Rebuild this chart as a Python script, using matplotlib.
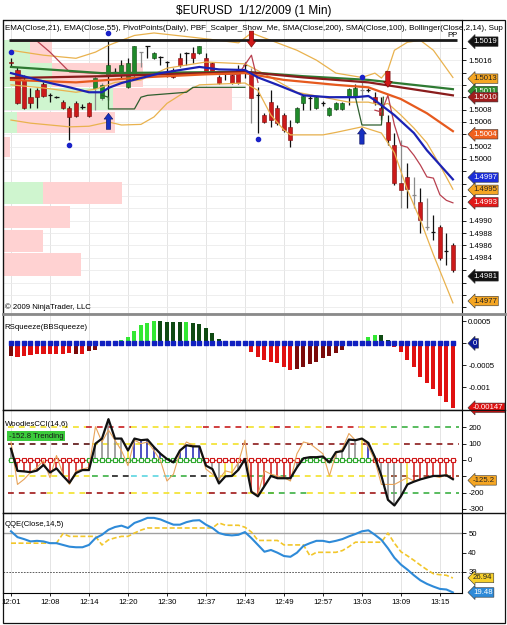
import matplotlib
matplotlib.use("Agg")
import matplotlib.pyplot as plt
from matplotlib.patches import Rectangle
from matplotlib.lines import Line2D

plt.rcParams['font.family'] = ['Liberation Sans', 'DejaVu Sans']

# ---------------- data ----------------
time_labels = ["12:01", "12:08", "12:14", "12:20", "12:30", "12:37", "12:43",
               "12:49", "12:57", "13:03", "13:09", "13:15"]

opens = [1.50157, 1.50144, 1.50128, 1.50100, 1.50111, 1.50121, 1.50103, 1.50100, 1.50092, 1.50082,
         1.50090, 1.50084, 1.50090, 1.50115, 1.50099, 1.50136, 1.50141, 1.50139, 1.50116, 1.50136,
         1.50173, 1.50183, 1.50163, 1.50165, 1.50157, 1.50144, 1.50163, 1.50171, 1.50171, 1.50171,
         1.50163, 1.50155, 1.50132, 1.50141, 1.50136, 1.50144, 1.50152, 1.50141, 1.50103, 1.50071,
         1.50092, 1.50082, 1.50071, 1.50052, 1.50060, 1.50090, 1.50099, 1.50082, 1.50090, 1.50071,
         1.50081, 1.50081, 1.50102, 1.50102, 1.50111, 1.50111, 1.50100, 1.50082, 1.50060, 1.50022,
         1.49961, 1.49971, 1.49942, 1.49930, 1.49890, 1.49882, 1.49890, 1.49851, 1.49861]
highs = [1.50163, 1.50149, 1.50136, 1.50115, 1.50115, 1.50124, 1.50107, 1.50102, 1.50095, 1.50086,
         1.50094, 1.50089, 1.50092, 1.50134, 1.50123, 1.50192, 1.50147, 1.50160, 1.50163, 1.50183,
         1.50173, 1.50183, 1.50173, 1.50166, 1.50158, 1.50147, 1.50171, 1.50173, 1.50181, 1.50183,
         1.50171, 1.50157, 1.50136, 1.50142, 1.50139, 1.50152, 1.50157, 1.50147, 1.50116, 1.50074,
         1.50111, 1.50087, 1.50074, 1.50063, 1.50084, 1.50103, 1.50102, 1.50102, 1.50094, 1.50084,
         1.50092, 1.50092, 1.50115, 1.50121, 1.50124, 1.50115, 1.50108, 1.50100, 1.50071, 1.50042,
         1.50031, 1.49993, 1.49971, 1.49953, 1.49937, 1.49909, 1.49893, 1.49880, 1.49864]
lows = [1.50149, 1.50089, 1.50081, 1.50082, 1.50082, 1.50100, 1.50092, 1.50099, 1.50081, 1.50030,
        1.50068, 1.50081, 1.50068, 1.50079, 1.50095, 1.50095, 1.50136, 1.50131, 1.50115, 1.50134,
        1.50149, 1.50163, 1.50162, 1.50152, 1.50132, 1.50131, 1.50149, 1.50152, 1.50155, 1.50170,
        1.50139, 1.50137, 1.50121, 1.50128, 1.50121, 1.50121, 1.50131, 1.50058, 1.50042, 1.50058,
        1.50052, 1.50055, 1.50043, 1.50019, 1.50058, 1.50079, 1.50079, 1.50081, 1.50086, 1.50069,
        1.50079, 1.50079, 1.50087, 1.50100, 1.50095, 1.50108, 1.50087, 1.50063, 1.50022, 1.49958,
        1.49921, 1.49921, 1.49921, 1.49880, 1.49885, 1.49869, 1.49836, 1.49828, 1.49817]
closes = [1.50155, 1.50090, 1.50082, 1.50090, 1.50100, 1.50102, 1.50103, 1.50100, 1.50082, 1.50068,
          1.50069, 1.50084, 1.50069, 1.50131, 1.50120, 1.50152, 1.50141, 1.50152, 1.50155, 1.50183,
          1.50173, 1.50183, 1.50171, 1.50165, 1.50157, 1.50132, 1.50152, 1.50171, 1.50163, 1.50183,
          1.50141, 1.50141, 1.50123, 1.50141, 1.50123, 1.50123, 1.50152, 1.50099, 1.50103, 1.50060,
          1.50063, 1.50058, 1.50047, 1.50031, 1.50082, 1.50102, 1.50099, 1.50100, 1.50090, 1.50082,
          1.50090, 1.50090, 1.50113, 1.50115, 1.50111, 1.50111, 1.50092, 1.50071, 1.50031, 1.49961,
          1.49950, 1.49951, 1.49942, 1.49901, 1.49890, 1.49882, 1.49840, 1.49851, 1.49820]
gray_wick_bars = [13, 14, 20, 37, 54, 60, 62, 64]

ema21_x = [0, 3, 6, 9, 12, 14, 15, 17, 20, 23, 26, 29, 32, 36, 38, 41, 45, 49, 53, 55, 56, 59, 62, 64, 68]
ema21_y = [1.50139, 1.50131, 1.50123, 1.50116, 1.50108, 1.50108, 1.50115, 1.50123, 1.50131, 1.50139,
           1.50144, 1.50149, 1.50145, 1.50144, 1.50132, 1.50120, 1.50103, 1.50100, 1.50100, 1.50102,
           1.50095, 1.50071, 1.50042, 1.50014, 1.49967]
ema55_x = [0, 10, 20, 30, 36, 42, 50, 55, 60, 64, 68]
ema55_y = [1.50128, 1.50124, 1.50132, 1.50137, 1.50139, 1.50128, 1.50120, 1.50116, 1.50097, 1.50074, 1.50045]
sma200_x = [0, 14, 36, 45, 55, 68]
sma200_y = [1.50149, 1.50139, 1.50141, 1.50134, 1.50128, 1.50113]
sma100_x = [0, 14, 36, 45, 55, 68]
sma100_y = [1.50131, 1.50134, 1.50141, 1.50132, 1.50124, 1.50103]

bb_upper_x = [0, 5, 10, 13, 15, 19, 22, 28, 32, 35, 37, 40, 44, 47, 50, 54, 56, 57, 58, 59, 61, 63, 65, 68]
bb_upper_y = [1.50176, 1.50168, 1.50163, 1.50173, 1.50184, 1.50200, 1.50204, 1.50197, 1.50192, 1.50188,
              1.50204, 1.50192, 1.50176, 1.50160, 1.50139, 1.50132, 1.50139, 1.50131, 1.50144, 1.50176,
              1.50189, 1.50192, 1.50176, 1.50132]
bb_mid_x = [0, 5, 10, 13, 16, 20, 24, 30, 36, 40, 44, 48, 52, 55, 57, 58, 60, 62, 64, 66, 68]
bb_mid_y = [1.50120, 1.50115, 1.50108, 1.50113, 1.50124, 1.50128, 1.50147, 1.50157, 1.50154, 1.50132,
            1.50108, 1.50100, 1.50092, 1.50092, 1.50087, 1.50090, 1.50071, 1.50050, 1.50026, 1.49990, 1.49951]
bb_lower_x = [0, 3, 9, 12, 15, 17, 20, 22, 24, 27, 29, 36, 38, 40, 42, 43, 48, 50, 54, 57, 59, 61, 63, 65, 68]
bb_lower_y = [1.50063, 1.50058, 1.50052, 1.50053, 1.50060, 1.50055, 1.50056, 1.50068, 1.50090, 1.50110,
              1.50120, 1.50123, 1.50111, 1.50071, 1.50047, 1.50039, 1.50039, 1.50043, 1.50052, 1.50042,
              1.50010, 1.49950, 1.49901, 1.49845, 1.49767]

scalper_a_x = [0, 4, 6, 9, 16, 35, 37, 38]
scalper_a_y = [1.50191, 1.50191, 1.50173, 1.50141, 1.50137, 1.50137, 1.50168, 1.50124]
scalper_b_x = [56, 57, 58, 59, 60, 61, 62, 63, 64, 65, 66, 67, 68]
scalper_b_y = [1.50079, 1.50076, 1.50103, 1.50055, 1.50022, 1.50019, 1.50006, 1.49990, 1.49971, 1.49969,
               1.49942, 1.49933, 1.49929]
stop_a_x = [14, 15, 15, 19, 20, 21, 27, 28, 36]
stop_a_y = [1.50103, 1.50100, 1.50081, 1.50081, 1.50100, 1.50103, 1.50108, 1.50116, 1.50116]
stop_b_x = [50, 53, 54, 57, 57.3]
stop_b_y = [1.50100, 1.50100, 1.50055, 1.50055, 1.50100]

pivot_pp = 1.50192
down_arrow_bars = [37, 58]
down_arrow_tips = [1.50181, 1.50116]
up_arrow_bars = [15, 54]
up_arrow_tips = [1.50074, 1.50050]
dot_bars = [0, 9, 15, 38, 54]
dot_prices = [1.50173, 1.50022, 1.50204, 1.50032, 1.50132]

profile_low = [1.50155, 1.50116, 1.50079, 1.50042, 1.50003, 1.49927, 1.49888, 1.49849, 1.49810]
profile_high = [1.50192, 1.50155, 1.50115, 1.50076, 1.50035, 1.49963, 1.49924, 1.49885, 1.49848]
profile_buy = [27, 49, 110, 14, 0, 40, 0, 0, 0]
profile_sell = [22, 91, 119, 98, 7, 79, 67, 40, 78]

price_tag_vals = [1.5019, 1.5013, 1.5011, 1.5010, 1.5004, 1.4997, 1.4995, 1.4993, 1.4981, 1.4977]
price_tag_txt = ["1.5019", "1.5013", "1.5011", "1.5010", "1.5004", "1.4997", "1.4995", "1.4993", "1.4981", "1.4977"]

rsq_values = [-0.00028, -0.00030, -0.00029, -0.00027, -0.00025, -0.00025, -0.00025, -0.00025, -0.00025, -0.00023,
              -0.00024, -0.00024, -0.00017, -0.00014, 0.0, 0.0, 0.0, 0.000075, 0.00014, 0.00028,
              0.00042, 0.00047, 0.00051, 0.00051, 0.00049, 0.00048, 0.00048, 0.00048, 0.00047, 0.00044,
              0.00036, 0.00024, 0.00011, 0.00002, 0.0, 0.0, 0.0, -0.00019, -0.00030, -0.00039,
              -0.00042, -0.00045, -0.00055, -0.00061, -0.00059, -0.00053, -0.00047, -0.00042, -0.00034, -0.00029,
              -0.00023, -0.00015, -0.00003, 0.0, 0.00006, 0.00015, 0.00020, 0.00019, 0.00008, -0.00008,
              -0.00019, -0.00038, -0.00055, -0.00076, -0.00091, -0.00105, -0.00120, -0.00133, -0.00147]
rsq_codes = "DRRRRRRRRRDRDD000GGGGGGKKKKGKKKKKK000RRRRRRRDDDDDDDDD0GGGKKRRRRRRRRRR"

cci_values = [69, -67, -70, -75, -65, -31, -77, -52, -98, -140,
              -80, -62, -62, 100, 131, 250, 131, 131, 58, 131,
              121, 125, 79, 38, 6, -15, 58, 90, 83, 83,
              -35, -56, -144, -100, -98, -60, 6, -196, -223, -160,
              -98, -112, -112, -112, -46, 10, 17, 17, 21, -15,
              48, 54, 125, 121, 131, 104, 17, -98, -244, -279,
              -223, -150, -133, -119, -108, -98, -98, -94, -118]
turbo_values = [110, -150, -119, -77, -46, -4, -108, 27, -87, -150,
                -67, -56, -46, 204, 110, 183, 121, 58, -35, 121,
                100, 110, 58, -4, -129, -87, 48, 110, 90, 79,
                -56, -87, -119, -67, -77, -15, 121, -192, -212, -67,
                -87, -98, -108, -129, 38, 110, 100, 69, 38, -98,
                38, 69, 162, 121, 131, 79, -4, -150, -150, -150,
                -129, -108, -129, -119, -108, -98, -108, -87, -119]
cci_hist_codes = "grrrrrrrrrrrrgggggybbbbbggbbbbgggyyggrrrrrrrggggggggggybgggggyrrrrrrr"
cci_zero_codes = "GRRRRRRRRRRRGGGGGGGGGGGGGGGGGGRRRRRRRRRRRRRRRGGGGGGGGGGGRRRRRRRRRRRRR"
cci_levels = [200, 100, -100, -200]
cci_level_segments = {
    200: [(0, 11, '#F2E22A'), (12, 18, '#C81E1E'), (19, 29, '#F2E22A'), (30, 36, '#C81E1E'),
          (37, 40, '#F2E22A'), (41, 43, '#C81E1E'), (44, 48, '#F2E22A'), (49, 53, '#C81E1E'),
          (54, 58, '#F2E22A'), (59, 68.5, '#3CB043')],
    100: [(0, 12, '#5A1010'), (13, 35, '#F2E22A'), (36, 55, '#8B1A1A'), (56, 60, '#F2E22A'),
          (61, 68.5, '#8B1A1A')],
    -100: [(0, 12, '#F2E22A'), (13, 15, '#3CB043'), (16, 18, '#202020'), (19, 24, '#5CD6E0'),
           (25, 27, '#3CB043'), (28, 30, '#202020'), (31, 36, '#F2E22A'), (37, 43, '#3CB043'),
           (44, 58, '#F2E22A'), (59, 68.5, '#8B3A1A')],
    -200: [(0, 5, '#A01818'), (6, 11, '#F2E22A'), (12, 18, '#A01818'), (19, 30, '#F2E22A'),
           (31, 36, '#A01818'), (37, 40, '#F2E22A'), (40, 45, '#3CB043'), (46, 53, '#F2E22A'),
           (54, 58, '#A01818'), (59, 68.5, '#3CB043')],
}

qqe_rsi = [50.9, 47.9, 46.9, 45.7, 46.0, 45.7, 44.8, 44.8, 43.9, 43.0,
           42.7, 42.7, 43.9, 47.4, 49.1, 51.7, 53.1, 53.8, 52.6, 55.2,
           56.4, 57.8, 57.8, 57.0, 55.6, 54.3, 54.3, 55.6, 56.4, 56.6,
           54.3, 52.6, 50.0, 49.1, 48.8, 49.1, 50.5, 47.4, 43.9, 40.4,
           41.3, 39.9, 38.2, 37.8, 39.9, 43.4, 44.8, 46.0, 46.0, 45.3,
           46.0, 46.9, 48.3, 49.5, 50.9, 51.4, 49.1, 46.5, 42.2, 37.3,
           33.8, 31.2, 28.3, 25.7, 23.9, 22.5, 21.3, 21.0, 19.5]
qqe_trail = [44.8, 44.8, 44.8, 44.8, 44.8, 44.8, 44.8, 44.8, 49.7, 48.3,
             48.3, 48.3, 48.3, 48.3, 43.9, 46.5, 47.5, 48.3, 48.3, 50.0,
             51.5, 52.6, 52.6, 52.6, 52.6, 52.6, 52.6, 52.6, 52.6, 52.6,
             52.6, 52.6, 55.2, 54.0, 54.0, 54.0, 53.0, 50.5, 46.2, 46.2,
             46.2, 46.2, 43.9, 43.9, 43.9, 43.9, 38.3, 40.1, 40.1, 40.1,
             40.1, 41.0, 43.0, 45.3, 45.3, 45.3, 45.3, 45.3, 50.0, 44.8,
             40.4, 38.3, 36.0, 33.5, 31.2, 29.1, 28.6, 28.3, 26.9]

# ---------------- layout ----------------
W, H = 507, 625
fig = plt.figure(figsize=(W / 100, H / 100), dpi=100, facecolor='white')
FS = 5.6
XL = (-1.23, 69.4)
n = len(closes)
xs = list(range(n))
tick_pos = list(range(0, 67, 6))


def make_ax(top, bottom):
    ax = fig.add_axes([3 / W, (H - bottom) / H, 459 / W, (bottom - top) / H])
    ax.set_xlim(*XL)
    ax.set_facecolor('white')
    for s in ax.spines.values():
        s.set_color('black')
        s.set_linewidth(0.8)
    ax.yaxis.tick_right()
    ax.tick_params(axis='y', labelsize=FS, length=3, pad=1.5, width=0.6)
    ax.set_xticks(tick_pos)
    ax.tick_params(axis='x', labelbottom=False, length=0)
    for t in tick_pos:
        ax.axvline(t, color='#E4E4E4', lw=0.7, zorder=0)
    return ax


def tag(ax, val, txt, fc, tc='white'):
    ax.text(1.024, val, txt, transform=ax.get_yaxis_transform(), ha='left', va='center',
            fontsize=FS, color=tc, clip_on=False, zorder=20,
            bbox=dict(boxstyle='larrow,pad=0.16', fc=fc, ec='#333333', lw=0.4))


def set_ticks(ax, ticks, labels, tag_vals, gap):
    ax.set_yticks(ticks)
    shown = []
    for t, lab in zip(ticks, labels):
        hidden = any(abs(t - tv) < gap for tv in tag_vals)
        shown.append('' if hidden else lab)
    ax.set_yticklabels(shown)


# ---------------- price panel ----------------
ax1 = make_ax(20, 314)
ax1.set_ylim(1.49749, 1.50225)
pticks = [1.4976 + 0.0002 * k for k in range(22)]
set_ticks(ax1, pticks, [f"{v:.4f}" for v in pticks], price_tag_vals, 0.000105)
for v in pticks:
    ax1.axhline(v, color='#EBEBEB', lw=0.6, zorder=0)

px_per_bar = 6.5
for lo, hi, b, s in zip(profile_low, profile_high, profile_buy, profile_sell):
    x0 = XL[0]
    if b > 0:
        ax1.add_patch(Rectangle((x0, lo), b / px_per_bar, hi - lo, fc='#CFF5CF', ec='none', zorder=0.5))
    if s > 0:
        ax1.add_patch(Rectangle((x0 + b / px_per_bar, lo), s / px_per_bar, hi - lo, fc='#FFD2D2',
                                ec='none', zorder=0.5))

ax1.hlines(pivot_pp, -0.3, 68.6, color='#1A1A1A', lw=2.0, zorder=5)
ax1.text(67.9, pivot_pp + 0.000025, "PP", fontsize=FS, ha='center', va='bottom', zorder=6)

# candles
for i in xs:
    o, h, l, c = opens[i], highs[i], lows[i], closes[i]
    wc = '#8A8A8A' if i in gray_wick_bars else '#111111'
    ax1.vlines(i, l, h, color=wc, lw=0.9, zorder=3)
    if abs(c - o) < 1e-9:
        ax1.hlines(c, i - 0.32, i + 0.32, color=wc, lw=0.9, zorder=3)
    else:
        up = c > o
        ax1.bar(i, abs(c - o), bottom=min(o, c), width=0.62,
                color='#1F8A2A' if up else '#CC1A1A',
                edgecolor='#0D4A12' if up else '#7A0A0A', lw=0.4, zorder=3.5)

ax1.plot(bb_upper_x, bb_upper_y, color='#E9B24E', lw=0.9, zorder=4)
ax1.plot(bb_mid_x, bb_mid_y, color='#E9B24E', lw=0.9, zorder=4)
ax1.plot(bb_lower_x, bb_lower_y, color='#E9B24E', lw=0.9, zorder=4)
ax1.plot(scalper_a_x, scalper_a_y, color='#B8404F', lw=0.9, zorder=4)
ax1.plot(scalper_b_x, scalper_b_y, color='#B8404F', lw=0.9, zorder=4)
ax1.plot(stop_a_x, stop_a_y, color='#2E5E2E', lw=0.9, zorder=4)
ax1.plot(stop_b_x, stop_b_y, color='#2E5E2E', lw=0.9, zorder=4)
ax1.plot(sma200_x, sma200_y, color='#2E7A32', lw=1.6, zorder=4.2)
ax1.plot(sma100_x, sma100_y, color='#8A1C1C', lw=1.6, zorder=4.3)
ax1.plot(ema55_x, ema55_y, color='#E65A1E', lw=1.6, zorder=4.4)
ax1.plot(ema21_x, ema21_y, color='#1C22B4', lw=1.6, zorder=4.5)

for b, tip in zip(down_arrow_bars, down_arrow_tips):
    ax1.annotate('', xy=(b, tip), xytext=(b, tip + 0.00026), zorder=6,
                 arrowprops=dict(arrowstyle='simple,head_width=0.9,head_length=0.6,tail_width=0.45',
                                 fc='#D01818', ec='#6A0000', lw=0.4, mutation_scale=7, shrinkA=0, shrinkB=0))
for b, tip in zip(up_arrow_bars, up_arrow_tips):
    ax1.annotate('', xy=(b, tip), xytext=(b, tip - 0.00026), zorder=6,
                 arrowprops=dict(arrowstyle='simple,head_width=0.9,head_length=0.6,tail_width=0.45',
                                 fc='#1830C0', ec='#0A1060', lw=0.4, mutation_scale=7, shrinkA=0, shrinkB=0))
ax1.scatter(dot_bars, dot_prices, s=9, color='#1A22C8', zorder=6)

ax1.text(0.004, 1 - 8 / 294,
         "EMA(Close,21), EMA(Close,55), PivotPoints(Daily), PBF_Scalper_Show_Me, SMA(Close,200), "
         "SMA(Close,100), Bollinger(Close,2,14), Sup",
         transform=ax1.transAxes, fontsize=5.8, va='center', ha='left', clip_on=False, zorder=7)
ax1.text(0.004, 1 - 287 / 294, "\u00a9 2009 NinjaTrader, LLC", transform=ax1.transAxes,
         fontsize=FS, va='center', ha='left', zorder=7)

tag_styles = [('#111111', 'white'), ('#F5A623', '#222222'), ('#2E8B2E', 'white'), ('#A01C1C', 'white'),
              ('#F0601E', 'white'), ('#1C2ED8', 'white'), ('#F5A623', '#222222'), ('#E01818', 'white'),
              ('#111111', 'white'), ('#F5A623', '#222222')]
for v, t, (fc, tc) in zip(price_tag_vals, price_tag_txt, tag_styles):
    tag(ax1, v, t, fc, tc)

# ---------------- RSqueeze panel ----------------
ax2 = make_ax(314, 410)
ax2.set_ylim(-0.00152, 0.00067)
set_ticks(ax2, [0.0005, 0, -0.0005, -0.001], ["0.0005", "0", "-0.0005", "-0.001"],
          [0, rsq_values[-1]], 0.0001)
rsq_color_map = {'D': '#7A0A0A', 'R': '#E01010', 'G': '#33E833', 'K': '#0F4A12'}
for i, (v, c) in zip(xs, zip(rsq_values, rsq_codes)):
    if c != '0' and v != 0:
        ax2.bar(i, v, width=0.62, color=rsq_color_map[c], zorder=3)
ax2.scatter(xs, [0] * n, marker='s', s=7, color='#1020C0', zorder=4)
ax2.text(0.004, 1 - 13 / 96, "RSqueeze(BBSqueeze)", transform=ax2.transAxes, fontsize=FS,
         va='center', ha='left')
tag(ax2, 0, "0", '#0A1A9A', 'white')
tag(ax2, rsq_values[-1], "-0.00147", '#E01010', 'white')

# ---------------- CCI panel ----------------
ax3 = make_ax(410, 513)
ax3.set_ylim(-325, 306)
set_ticks(ax3, [200, 100, 0, -100, -200, -300], ["200", "100", "0", "-100", "-200", "-300"],
          [-125.2], 40)
for lev in cci_levels:
    for a, b, col in cci_level_segments[lev]:
        ax3.hlines(lev, a - 0.5, b + 0.5, color=col, lw=1.2, linestyles=(0, (3.5, 3)), zorder=2)
hist_map = {'r': '#D01818', 'g': '#8A8A8A', 'y': '#F2E22A', 'b': '#1C22B4'}
for i, v, c in zip(xs, cci_values, cci_hist_codes):
    ax3.vlines(i, 0, v, color=hist_map[c], lw=1.1, zorder=3)
zero_map = {'G': '#2EA82E', 'R': '#D01818'}
for i, c in zip(xs, cci_zero_codes):
    ax3.hlines(0, i - 0.5, i + 0.5, color=zero_map[c], lw=1.0, zorder=3.2)
    ax3.plot(i, 0, marker='s', ms=3.2, mfc='white', mec=zero_map[c], mew=0.8, zorder=3.5)
ax3.plot(xs, turbo_values, color='#E8A45A', lw=0.8, zorder=4)
ax3.plot(xs, cci_values, color='#111111', lw=1.6, zorder=5)
ax3.text(0.004, 1 - 15 / 103, "WoodiesCCI(14,6)", transform=ax3.transAxes, fontsize=FS,
         va='center', ha='left', zorder=6)
ax3.text(0.012, 1 - 26 / 103, "-152.8 Trending", transform=ax3.transAxes, fontsize=FS,
         va='center', ha='left', color='#1A1A1A', zorder=6,
         bbox=dict(boxstyle='square,pad=0.2', fc='#3CCB3C', ec='none'))
tag(ax3, -125.2, "-125.2", '#F5A623', '#222222')

# ---------------- QQE panel ----------------
ax4 = make_ax(513, 593)
ax4.set_ylim(19.2, 60.3)
set_ticks(ax4, [50, 40, 30], ["50", "40", "30"], [26.94, 19.48], 2.5)
ax4.axhline(50, color='#A0A0A0', lw=1.0, zorder=1)
ax4.axhline(30, color='#444444', lw=0.6, ls=(0, (2, 1.5)), zorder=1)
ax4.plot(xs, qqe_trail, color='#F2C62A', lw=1.2, ls=(0, (3, 1.5)), zorder=3)
ax4.plot(xs, qqe_rsi, color='#2E8AD8', lw=1.5, zorder=4)
ax4.text(0.004, 1 - 12 / 80, "QQE(Close,14,5)", transform=ax4.transAxes, fontsize=FS,
         va='center', ha='left')
tag(ax4, 26.94, "26.94", '#F7D02A', '#222222')
tag(ax4, 19.48, "19.48", '#2E8AD8', 'white')
ax4.set_xticks(tick_pos)
ax4.set_xticklabels(time_labels)
ax4.tick_params(axis='x', labelbottom=True, length=2, labelsize=FS, pad=2, width=0.6)

# ---------------- frame / separators ----------------
fig.add_artist(Rectangle((3 / W, (H - 623) / H), 502 / W, 603 / H, transform=fig.transFigure,
                         fill=False, ec='#111111', lw=0.9))
fig.add_artist(Line2D([3 / W, 505 / W], [(H - 314) / H] * 2, transform=fig.transFigure,
                      color='#8A8A8A', lw=2.0))
for yy in (410, 513):
    fig.add_artist(Line2D([3 / W, 505 / W], [(H - yy) / H] * 2, transform=fig.transFigure,
                          color='#111111', lw=1.0))

fig.text(0.5, (H - 11) / H, "$EURUSD  1/12/2009 (1 Min)", ha='center', va='center', fontsize=8.5)

fig.savefig("out.png", dpi=100, facecolor='white')
